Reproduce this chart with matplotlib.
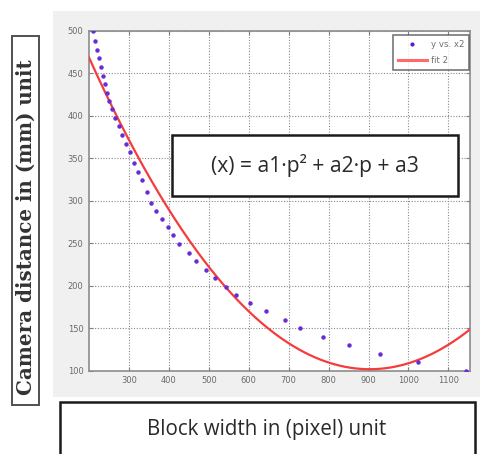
import numpy as np
import matplotlib
matplotlib.use('Agg')
from matplotlib import pyplot as plt
from matplotlib.patches import Rectangle
from matplotlib.lines import Line2D

# measured block widths (pixel) and camera distances (mm)
block_width = [209, 214, 219, 224, 229, 234, 239, 244, 251, 257,
               265, 274, 282, 292, 303, 313, 323, 334, 345, 355,
               369, 382, 398, 411, 426, 451, 468, 493, 515, 543,
               568, 603, 643, 690, 728, 786, 852, 929, 1025, 1144]
distance = [500, 488, 478, 468, 458, 447, 437, 427, 418, 408,
            398, 388, 378, 367, 357, 345, 334, 324, 311, 298,
            288, 279, 269, 260, 249, 239, 229, 219, 209, 199,
            189, 180, 170, 160, 150, 140, 130, 120, 110, 100]

# quadratic fit coefficients a1, a2, a3
fit_coef = [7.42e-4, -1.340, 707.0]

x_ticks = [300, 400, 500, 600, 700, 800, 900, 1000, 1100]
y_ticks = [100, 150, 200, 250, 300, 350, 400, 450, 500]

fig = plt.figure(figsize=(4.81, 4.54), dpi=100)
fig.patch.set_facecolor('white')

# grey window panel behind the axes
fig.patches.append(Rectangle((0.110, 0.126), 0.89, 0.85, transform=fig.transFigure,
                             facecolor='#f0f0f0', edgecolor='none', zorder=-5))

ax = fig.add_axes([0.185, 0.183, 0.792, 0.749])
ax.set_zorder(3)
ax.set_facecolor('white')

xs = np.linspace(200, 1154, 300)
ys = np.polyval(fit_coef, xs)
ax.plot(xs, ys, color='#f53c3c', lw=1.6, zorder=3)
ax.plot(block_width, distance, linestyle='none', marker='o', ms=2.2,
        mfc='#6a2bd6', mec='#6a2bd6', zorder=4)

ax.set_xlim(200, 1154)
ax.set_ylim(100, 500)
ax.set_xticks(x_ticks)
ax.set_yticks(y_ticks)
ax.tick_params(direction='in', length=3, width=0.8, colors='#808080',
               labelcolor='#6a6a6a', labelsize=6, pad=4,
               top=True, right=True)
for lbl in ax.get_xticklabels() + ax.get_yticklabels():
    lbl.set_family(['Liberation Sans Narrow', 'DejaVu Sans'])
ax.grid(True, color='#8a8a8a', linestyle=(0, (1, 1.5)), linewidth=0.8)
ax.set_axisbelow(True)
for sp in ax.spines.values():
    sp.set_color('#8c8c8c')
    sp.set_linewidth(1.2)

handles = [Line2D([], [], linestyle='none', marker='o', ms=2.0,
                  mfc='#5a1ad0', mec='#5a1ad0'),
           Line2D([], [], color='#ff6a6a', lw=2.2)]
leg = ax.legend(handles, ['y vs. x2', 'fit 2'], loc='upper right',
                bbox_to_anchor=(0.997, 0.988), fontsize=6.2, frameon=True,
                fancybox=False, borderpad=0.55, labelspacing=0.85,
                handlelength=3.4, handletextpad=0.4, borderaxespad=0)
leg.get_frame().set_edgecolor('#555555')
leg.get_frame().set_linewidth(1.2)
for t in leg.get_texts():
    t.set_color('#707070')
    t.set_family(['Liberation Sans Narrow', 'DejaVu Sans'])

# equation box
ax.add_patch(Rectangle((0.217, 0.513), 0.751, 0.182, transform=ax.transAxes,
                       facecolor='white', edgecolor='#1a1a1a', lw=1.8, zorder=6))
ax.text(0.5925, 0.604, '(x) = a1\u00b7p\u00b2 + a2\u00b7p + a3', transform=ax.transAxes,
        ha='center', va='center', fontsize=15.2, color='#2a2a2a',
        family=['Open Sans', 'DejaVu Sans'], zorder=7)

# y axis caption box
fig.patches.append(Rectangle((12.3 / 481, 1 - 405 / 454), 27 / 481, 369 / 454,
                             transform=fig.transFigure, facecolor='white',
                             edgecolor='#505050', lw=1.4, zorder=1))
fig.text(25.8 / 481, 1 - 227.5 / 454, 'Camera distance in (mm) unit',
         rotation=90, ha='center', va='center', fontsize=14.3, fontweight='bold',
         color='#333333', family=['DejaVu Serif'], zorder=2)

# x axis caption box
fig.patches.append(Rectangle((60 / 481, -0.05), 415 / 481, 0.05 + 52.3 / 454,
                             transform=fig.transFigure, facecolor='white',
                             edgecolor='#1a1a1a', lw=1.8, zorder=1))
fig.text(266.7 / 481, 1 - 429 / 454, 'Block width in (pixel) unit',
         ha='center', va='center', fontsize=14.8, color='#2a2a2a',
         family=['Open Sans', 'DejaVu Sans'], zorder=2)

fig.savefig('out.png', dpi=100)
